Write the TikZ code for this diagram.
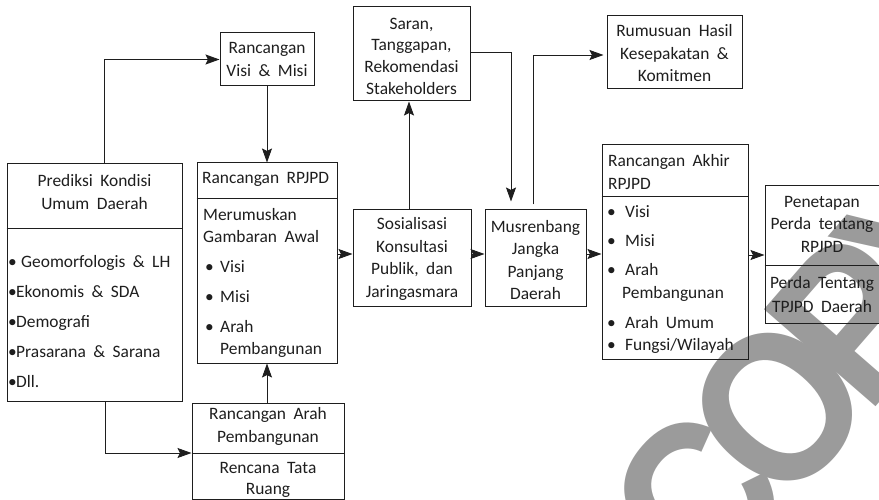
\documentclass[tikz,border=0pt]{standalone}
\usepackage{fontspec}
\setmainfont{Carlito}[WordSpace=1.9]
\newfontfamily\markfont{Liberation Sans}
\usetikzlibrary{arrows.meta}
\definecolor{ink}{RGB}{30,30,30}
\definecolor{markgray}{RGB}{155,155,155}
\tikzset{
  box/.style={draw=ink, line width=1pt, rectangle, inner sep=0pt},
  lbl/.style={inner sep=0pt, text=ink, font=\fontsize{17.4}{22.5}\selectfont},
  arr/.style={draw=ink, line width=0.9pt, -{Stealth[length=14pt,width=10pt,inset=2.5pt]}},
  divider/.style={draw=ink, line width=1pt},
  stamp/.style={inner sep=0pt, text=markgray, font=\markfont\bfseries\fontsize{215}{215}\selectfont},
}
\newcommand\bul[1]{\makebox[#1][l]{•}}

\begin{document}
\begin{tikzpicture}[x=1pt,y=-1pt]
\useasboundingbox (0,0) rectangle (879,500);

% background stamp, slightly condensed and tracked in
\begin{scope}
  \clip (0,0) rectangle (879,500);
  \node[stamp, rotate=49, xscale=0.9, anchor=base west] (mark) at (707.6,600.6)
    {C\kern-0.12em O\kern-0.12em P\kern-0.12em Y};
\end{scope}

% boxes
\node[box, minimum width=175pt, minimum height=237pt] (pred)  at (94.5,282.5) {};
\node[box, minimum width=94pt,  minimum height=53pt]  (visi)  at (267,59.5) {};
\node[box, minimum width=140pt, minimum height=200pt] (rpjpd) at (267,263) {};
\node[box, minimum width=152pt, minimum height=96pt]  (rap)   at (268,451) {};
\node[box, minimum width=118pt, minimum height=96pt]  (sos)   at (412,258) {};
\node[box, minimum width=117pt, minimum height=94pt]  (saran) at (411.5,54) {};
\node[box, minimum width=101pt, minimum height=96pt]  (mus)   at (535.5,258) {};
\node[box, minimum width=135pt, minimum height=73pt]  (rum)   at (674.5,52.5) {};
\node[box, minimum width=146pt, minimum height=214pt] (akhir) at (675,252) {};
\node[box, minimum width=116pt, minimum height=137pt] (pen)   at (823,254.5) {};

% dividers
\draw[divider] (pred.west |- 0,229) -- (pred.east |- 0,229);
\draw[divider] (rpjpd.west |- 0,199) -- (rpjpd.east |- 0,199);
\draw[divider] (rap.west |- 0,453) -- (rap.east |- 0,453);
\draw[divider] (akhir.west |- 0,197) -- (akhir.east |- 0,197);
\draw[divider] (pen.west |- 0,265) -- (pen.east |- 0,265);

% texts
\node[lbl, align=center] (predT) at (94.5,192) {Prediksi Kondisi\\Umum Daerah};
\node[lbl, align=left, anchor=west] (predL) at (8,322)
  {\bul{13pt}Geomorfologis \& LH\\[7.5pt]\bul{8pt}Ekonomis \& SDA\\[7.5pt]\bul{8pt}Demografi\\[7.5pt]\bul{8pt}Prasarana \& Sarana\\[7.5pt]\bul{8pt}Dll.};
\node[lbl, align=center] (visiT) at (267,59.5) {Rancangan\\Visi \& Misi};
\node[lbl, anchor=west] (rpjpdT) at (202,179) {Rancangan RPJPD};
\node[lbl, align=left, anchor=west] (rpjpdL) at (203,283)
  {Merumuskan\\Gambaran Awal\\[7.5pt]\hspace*{2pt}\bul{15pt}Visi\\[7.5pt]\hspace*{2pt}\bul{15pt}Misi\\[7pt]\hspace*{2pt}\bul{15pt}Arah\\\hspace*{17pt}Pembangunan};
\node[lbl, align=center] (rapT) at (268,426.5) {Rancangan Arah\\Pembangunan};
\node[lbl, align=center, font=\fontsize{17.4}{20.5}\selectfont] (rapB) at (268,480) {Rencana Tata\\Ruang};
\node[lbl, align=center] (sosT) at (412,259) {Sosialisasi\\Konsultasi\\Publik, dan\\Jaringasmara};
\node[lbl, align=center, font=\fontsize{17.4}{21.7}\selectfont] (saranT) at (411.5,56) {Saran,\\Tanggapan,\\Rekomendasi\\Stakeholders};
\node[lbl, align=center] (musT) at (535.5,260) {Musrenbang\\Jangka\\Panjang\\Daerah};
\node[lbl, align=center] (rumT) at (674.5,53.5) {Rumusuan Hasil\\Kesepakatan \&\\Komitmen};
\node[lbl, align=left, anchor=west] (akhirT) at (608,172) {Rancangan Akhir\\RPJPD};
\node[lbl, align=left, anchor=west] (akhirL) at (607,280)
  {\bul{18pt}Visi\\[6.5pt]\bul{18pt}Misi\\[6.5pt]\bul{18pt}Arah\\\hspace*{15pt}Pembangunan\\[7.5pt]\bul{18pt}Arah Umum\\\bul{18pt}Fungsi/Wilayah};
\node[lbl, align=center] (penT) at (822,224) {Penetapan\\Perda tentang\\RPJPD};
\node[lbl, align=center, font=\fontsize{17.4}{24}\selectfont] (penB) at (822,295) {Perda Tentang\\TPJPD Daerah};

% connectors
\draw[arr] (pred.north -| 104,0) |- (visi.west);
\draw[arr] (visi.south) -- (rpjpd.north);
\draw[arr] (rpjpd.south |- rap.north) -- (rpjpd.south);
\draw[arr] (pred.south -| 105,0) |- (rap.west |- 0,453);
\draw[arr] (rpjpd.east |- 0,254) -- (sos.west |- 0,254);
\draw[arr] (sos.east |- 0,254) -- (mus.west |- 0,254);
\draw[arr] (mus.east |- 0,254) -- (akhir.west |- 0,254);
\draw[arr] (akhir.east |- 0,255) -- (pen.west |- 0,255);
\draw[arr] (sos.north -| 409,0) -- (saran.south -| 409,0);
\draw[arr, shorten >=8pt] (saran.east |- 0,52) -| (mus.north -| 511,0);
\draw[arr, shorten <=5pt, shorten >=3pt] (mus.north -| 533,0) |- (rum.west |- 0,55);
\end{tikzpicture}
\end{document}
